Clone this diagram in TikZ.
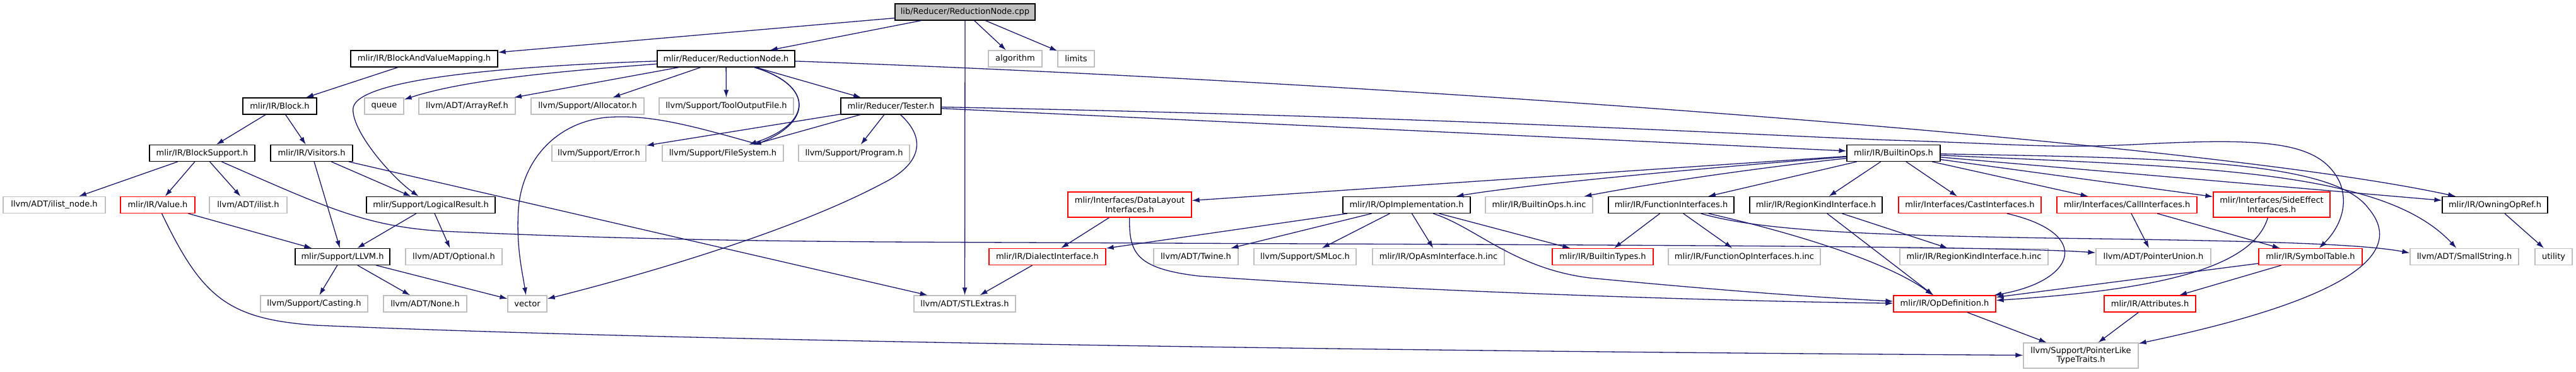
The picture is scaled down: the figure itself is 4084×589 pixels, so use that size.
\documentclass[tikz,border=0pt]{standalone}
\usepackage{fontspec}
\setmainfont{DejaVu Sans}
\usepackage{tikz}
\usetikzlibrary{arrows.meta}
\definecolor{edgeblue}{RGB}{25,25,112}
\definecolor{extgray}{RGB}{191,191,191}

\begin{document}
\begin{tikzpicture}[
  x=1bp, y=-1bp,
  font=\fontsize{13bp}{14.5bp}\selectfont,
  >={Latex[length=12bp,width=8bp]},
  incfile/.style={draw=black, line width=1.2bp, inner sep=0pt,
    minimum height=26bp, align=center},
  sysfile/.style={incfile, draw=extgray},
  cutfile/.style={incfile, draw=red},
  srcfile/.style={incfile, fill=extgray},
  twoline/.style={minimum height=40bp},
  inc/.style={->, draw=edgeblue, line width=1.3bp}
]
  \useasboundingbox (0,0) rectangle (4084,589);

  % rank 0
  \node[srcfile, minimum width=222bp] (cpp) at (1530,19) {lib/Reducer/ReductionNode.cpp};
  % rank 1
  \node[incfile, minimum width=233bp] (bavm) at (672.5,93) {mlir/IR/BlockAndValueMapping.h};
  \node[incfile, minimum width=218bp] (rnode) at (1151,93) {mlir/Reducer/ReductionNode.h};
  \node[sysfile, minimum width=85bp] (algo) at (1609.5,93) {algorithm};
  \node[sysfile, minimum width=58bp] (limits) at (1706,93) {limits};
  % rank 2
  \node[incfile, minimum width=117bp] (block) at (443.5,168) {mlir/IR/Block.h};
  \node[sysfile, minimum width=62bp] (queue) at (609,168) {queue};
  \node[sysfile, minimum width=153bp] (arrayref) at (740.5,168) {llvm/ADT/ArrayRef.h};
  \node[sysfile, minimum width=179bp] (alloc) at (931.5,168) {llvm/Support/Allocator.h};
  \node[sysfile, minimum width=213bp] (toolout) at (1151.5,168) {llvm/Support/ToolOutputFile.h};
  \node[incfile, minimum width=159bp] (tester) at (1412.5,168) {mlir/Reducer/Tester.h};
  % rank 3
  \node[incfile, minimum width=167bp] (blocksupp) at (320.5,242.5) {mlir/IR/BlockSupport.h};
  \node[incfile, minimum width=130bp] (visitors) at (494,242.5) {mlir/IR/Visitors.h};
  \node[sysfile, minimum width=149bp] (error) at (949.5,242.5) {llvm/Support/Error.h};
  \node[sysfile, minimum width=192bp] (filesys) at (1146,242.5) {llvm/Support/FileSystem.h};
  \node[sysfile, minimum width=176bp] (program) at (1354,242.5) {llvm/Support/Program.h};
  \node[incfile, minimum width=148bp] (builtinops) at (3002,242.5) {mlir/IR/BuiltinOps.h};
  % rank 4
  \node[sysfile, minimum width=162bp] (ilistnode) at (86,324.5) {llvm/ADT/ilist\_node.h};
  \node[cutfile, minimum width=118bp] (value) at (250,324.5) {mlir/IR/Value.h};
  \node[sysfile, minimum width=123bp] (ilist) at (393.5,324.5) {llvm/ADT/ilist.h};
  \node[incfile, minimum width=204bp] (logicres) at (683,324.5) {mlir/Support/LogicalResult.h};
  \node[cutfile, twoline, minimum width=196bp] (datalayout) at (1791,324)
    {mlir/Interfaces/DataLayout\\Interfaces.h};
  \node[incfile, minimum width=202bp] (opimpl) at (2230,324.5) {mlir/IR/OpImplementation.h};
  \node[sysfile, minimum width=170bp] (builtinopsinc) at (2440,324.5) {mlir/IR/BuiltinOps.h.inc};
  \node[incfile, minimum width=199bp] (funcif) at (2649.5,324.5) {mlir/IR/FunctionInterfaces.h};
  \node[incfile, minimum width=210bp] (regionkind) at (2879,324.5) {mlir/IR/RegionKindInterface.h};
  \node[cutfile, minimum width=226bp] (castif) at (3123,324.5) {mlir/Interfaces/CastInterfaces.h};
  \node[cutfile, minimum width=222bp] (callif) at (3372,324.5) {mlir/Interfaces/CallInterfaces.h};
  \node[cutfile, twoline, minimum width=185bp] (sideeff) at (3601.5,324)
    {mlir/Interfaces/SideEffect\\Interfaces.h};
  \node[incfile, minimum width=167bp] (owning) at (3955.5,324.5) {mlir/IR/OwningOpRef.h};
  % rank 5
  \node[incfile, minimum width=150bp] (llvmh) at (543,406.5) {mlir/Support/LLVM.h};
  \node[sysfile, minimum width=153bp] (optional) at (719.5,406.5) {llvm/ADT/Optional.h};
  \node[cutfile, minimum width=185bp] (dialectif) at (1660.5,406.5) {mlir/IR/DialectInterface.h};
  \node[sysfile, minimum width=134bp] (twine) at (1896,406.5) {llvm/ADT/Twine.h};
  \node[sysfile, minimum width=162bp] (smloc) at (2069,406.5) {llvm/Support/SMLoc.h};
  \node[sysfile, minimum width=209bp] (opasm) at (2280.5,406.5) {mlir/IR/OpAsmInterface.h.inc};
  \node[cutfile, minimum width=160bp] (builtintypes) at (2541,406.5) {mlir/IR/BuiltinTypes.h};
  \node[sysfile, minimum width=241bp] (funcopinc) at (2765.5,406.5) {mlir/IR/FunctionOpInterfaces.h.inc};
  \node[sysfile, minimum width=235bp] (regionkindinc) at (3129.5,406.5) {mlir/IR/RegionKindInterface.h.inc};
  \node[sysfile, minimum width=182bp] (ptrunion) at (3414,406.5) {llvm/ADT/PointerUnion.h};
  \node[cutfile, minimum width=164bp] (symtab) at (3663,406.5) {mlir/IR/SymbolTable.h};
  \node[sysfile, minimum width=172bp] (smallstr) at (3907,406.5) {llvm/ADT/SmallString.h};
  \node[sysfile, minimum width=59bp] (utility) at (4048.5,406.5) {utility};
  % rank 6
  \node[sysfile, minimum width=170bp] (casting) at (498,481) {llvm/Support/Casting.h};
  \node[sysfile, minimum width=132bp] (none) at (674,481) {llvm/ADT/None.h};
  \node[sysfile, minimum width=62bp] (vector) at (836,481) {vector};
  \node[sysfile, minimum width=161bp] (stlextras) at (1529.5,481) {llvm/ADT/STLExtras.h};
  \node[cutfile, minimum width=162bp] (opdef) at (3083,481) {mlir/IR/OpDefinition.h};
  \node[cutfile, minimum width=145bp] (attrs) at (3408.5,481) {mlir/IR/Attributes.h};
  % rank 7
  \node[sysfile, twoline, minimum width=182bp] (ptrlike) at (3299,563)
    {llvm/Support/PointerLike\\TypeTraits.h};

  % includes of the .cpp
  \draw[inc] (cpp) -- (bavm);
  \draw[inc] (cpp) -- (rnode);
  \draw[inc] (cpp) -- (algo);
  \draw[inc] (cpp) -- (limits);
  \draw[inc] (cpp) -- (stlextras);

  % ReductionNode.h
  \draw[inc] (rnode) .. controls (900,112) and (740,125) .. (queue);
  \draw[inc] (rnode) -- (arrayref);
  \draw[inc] (rnode) -- (alloc);
  \draw[inc] (rnode) -- (toolout);
  \draw[inc] (rnode) -- (tester);
  \draw[inc] (rnode) .. controls (1290,135) and (1290,195) .. (filesys);
  \draw[inc] (rnode) .. controls (1290,135) and (1290,195) .. (1200,228)
    .. controls (1100,200) and (1030,180) .. (960,186)
    .. controls (880,195) and (828,255) .. (822,330)
    .. controls (818,390) and (828,430) .. (vector);
  \draw[inc] (rnode) .. controls (800,105) and (570,125) .. (560,170)
    .. controls (555,205) and (620,280) .. (logicres);
  \draw[inc] (rnode) .. controls (2200,130) and (3500,225) .. (owning);

  \draw[inc] (bavm) -- (block);
  \draw[inc] (block) -- (blocksupp);
  \draw[inc] (block) -- (visitors);
  \draw[inc] (blocksupp) -- (ilistnode);
  \draw[inc] (blocksupp) -- (value);
  \draw[inc] (blocksupp) -- (ilist);
  \draw[inc] (blocksupp) .. controls (520,330) and (580,358) .. (700,366)
    .. controls (900,375) and (1100,381) .. (1400,383)
    .. controls (2400,388) and (3150,388) .. (ptrunion);
  \draw[inc] (value) -- (llvmh);
  \draw[inc] (value) .. controls (320,470) and (360,505) .. (500,515)
    .. controls (1200,545) and (2500,558) .. (ptrlike);
  \draw[inc] (visitors) -- (llvmh);
  \draw[inc] (visitors) -- (logicres);
  \draw[inc] (visitors) -- (stlextras);
  \draw[inc] (logicres) -- (llvmh);
  \draw[inc] (logicres) -- (optional);
  \draw[inc] (llvmh) -- (casting);
  \draw[inc] (llvmh) -- (none);
  \draw[inc] (llvmh) -- (vector);

  % Tester.h
  \draw[inc] (tester) -- (error);
  \draw[inc] (tester) -- (filesys);
  \draw[inc] (tester) -- (program);
  \draw[inc] (tester) .. controls (1470,220) and (1460,260) .. (1400,290)
    .. controls (1250,370) and (1000,440) .. (vector);
  \draw[inc] (tester) -- (builtinops);
  \draw[inc] (tester) .. controls (2300,185) and (2800,215) .. (3000,222)
    .. controls (3200,228) and (3250,236) .. (3400,228)
    .. controls (3600,218) and (3680,225) .. (3710,290)
    .. controls (3725,330) and (3705,365) .. (symtab);

  % BuiltinOps.h
  \draw[inc] (builtinops) -- (datalayout);
  \draw[inc] (builtinops) .. controls (2650,270) and (2400,295) .. (opimpl);
  \draw[inc] (builtinops) .. controls (2750,270) and (2600,294) .. (builtinopsinc);
  \draw[inc] (builtinops) -- (funcif);
  \draw[inc] (builtinops) -- (regionkind);
  \draw[inc] (builtinops) -- (castif);
  \draw[inc] (builtinops) -- (callif);
  \draw[inc] (builtinops) -- (sideeff);
  \draw[inc] (builtinops) -- (owning);
  \draw[inc] (builtinops) .. controls (3500,265) and (3780,270) .. (smallstr);
  \draw[inc] (builtinops) .. controls (3450,250) and (3700,255) .. (3755,330)
    .. controls (3840,430) and (3600,500) .. (ptrlike);

  \draw[inc] (datalayout) -- (dialectif);
  \draw[inc] (datalayout) .. controls (1790,400) and (1800,425) .. (1900,437)
    .. controls (2300,465) and (2800,478) .. (opdef);
  \draw[inc] (dialectif) -- (stlextras);
  \draw[inc] (opimpl) -- (dialectif);
  \draw[inc] (opimpl) -- (twine);
  \draw[inc] (opimpl) -- (smloc);
  \draw[inc] (opimpl) -- (opasm);
  \draw[inc] (opimpl) -- (builtintypes);
  \draw[inc] (opimpl) .. controls (2340,360) and (2400,425) .. (2520,440)
    .. controls (2750,462) and (2900,472) .. (opdef);
  \draw[inc] (funcif) -- (builtintypes);
  \draw[inc] (funcif) -- (funcopinc);
  \draw[inc] (funcif) .. controls (2870,375) and (3000,420) .. (opdef);
  \draw[inc] (funcif) .. controls (2790,365) and (2950,372) .. (3250,377)
    .. controls (3550,381) and (3740,385) .. ([yshift=6bp]smallstr.west);
  \draw[inc] (regionkind) -- (opdef);
  \draw[inc] (regionkind) -- (regionkindinc);
  \draw[inc] (castif) .. controls (3320,370) and (3290,445) .. (opdef);
  \draw[inc] (callif) -- (ptrunion);
  \draw[inc] (callif) -- (symtab);
  \draw[inc] (sideeff) .. controls (3570,430) and (3400,460) .. (opdef);
  \draw[inc] (symtab) -- (opdef);
  \draw[inc] (symtab) -- (attrs);
  \draw[inc] (opdef) -- (ptrlike);
  \draw[inc] (attrs) -- (ptrlike);
  \draw[inc] (owning) -- (utility);
\end{tikzpicture}
\end{document}
